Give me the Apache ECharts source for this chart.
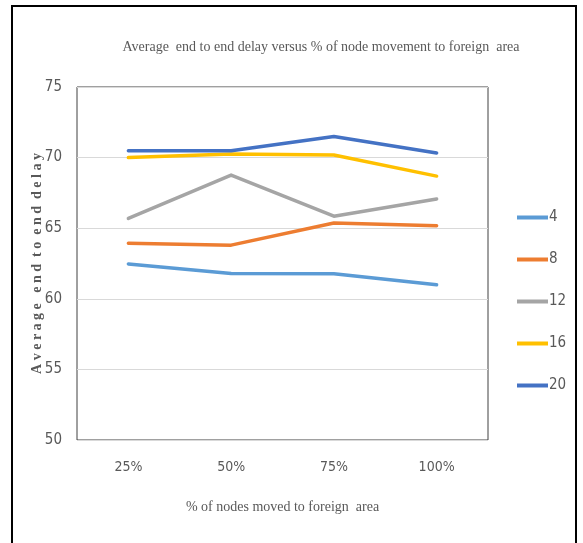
<!DOCTYPE html>
<html>
<head>
<meta charset="utf-8">
<script src="https://cdn.jsdelivr.net/npm/echarts@6/dist/echarts.min.js"></script>
<style>
  html, body { margin: 0; padding: 0; background: #fff; }
  #frame { position: absolute; left: 11px; top: 5px; width: 566px; height: 545px; border: 2px solid #000; box-sizing: border-box; }
  #chart { position: absolute; left: 0; top: 0; width: 583px; height: 543px; }
</style>
</head>
<body>
<div id="frame"></div>
<div id="chart"></div>
<script>
// Share of nodes moved to the foreign area
const categories = ['25%', '50%', '75%', '100%'];

// Average end-to-end delay per node count
const nodes4  = [62.47, 61.80, 61.77, 60.99];
const nodes8  = [63.94, 63.80, 65.37, 65.18];
const nodes12 = [65.69, 68.76, 65.85, 67.07];
const nodes16 = [70.00, 70.25, 70.18, 68.69];
const nodes20 = [70.48, 70.48, 71.50, 70.32];

const seriesNames = ['4', '8', '12', '16', '20'];
const seriesData = [nodes4, nodes8, nodes12, nodes16, nodes20];
const colors = ['#5B9BD5', '#ED7D31', '#A5A5A5', '#FFC000', '#4472C4'];

const narrow = '"DejaVu Sans Condensed", "Liberation Sans Narrow", sans-serif';
const serif = '"Liberation Serif", "DejaVu Serif", serif';

const chart = echarts.init(document.getElementById('chart'), null, { renderer: 'canvas' });
chart.setOption({
  animation: false,
  color: colors,
  title: {
    text: 'Average  end to end delay versus % of node movement to foreign  area',
    left: 316,
    textAlign: 'center',
    top: 35,
    textStyle: { fontFamily: serif, fontSize: 14, fontWeight: 'normal', color: '#595959' }
  },
  legend: {
    orient: 'vertical',
    left: 512,
    top: 205,
    itemWidth: 31,
    itemHeight: 14,
    itemGap: 27,
    icon: 'path://M0,0 L31,0 L31,4 L0,4 Z',
    textStyle: { fontFamily: narrow, fontSize: 15, color: '#595959', padding: [0, 0, 0, -4], height: 13, lineHeight: 13 },
    data: seriesNames
  },
  grid: {
    left: 77, right: 95, top: 87, bottom: 103,
    show: true, borderColor: '#404040', borderWidth: 1
  },
  xAxis: {
    type: 'category',
    data: categories,
    boundaryGap: true,
    axisLine: { show: false },
    axisTick: { show: false },
    axisLabel: { fontFamily: narrow, fontSize: 14, color: '#595959', margin: 20 },
    name: '% of nodes moved to foreign  area',
    nameLocation: 'middle',
    nameGap: 60,
    nameMoveOverlap: false,
    nameTextStyle: { fontFamily: serif, fontSize: 14, color: '#595959' }
  },
  yAxis: {
    type: 'value',
    min: 50, max: 75, interval: 5,
    axisLine: { show: false },
    axisTick: { show: false },
    splitLine: { lineStyle: { color: '#D9D9D9', width: 1 } },
    axisLabel: { fontFamily: narrow, fontSize: 15, color: '#595959', margin: 15 },
    name: 'A v e r a g e   e n d  t o  e n d  d e l a y',
    nameLocation: 'middle',
    nameGap: 33,
    nameMoveOverlap: false,
    nameTextStyle: { fontFamily: serif, fontSize: 14, fontWeight: 'bold', color: '#595959' }
  },
  series: seriesData.map((d, i) => ({
    name: seriesNames[i],
    type: 'line',
    data: d,
    symbol: 'none',
    lineStyle: { width: 3.5, color: colors[i], cap: 'round', join: 'round' }
  }))
});
</script>
</body>
</html>
